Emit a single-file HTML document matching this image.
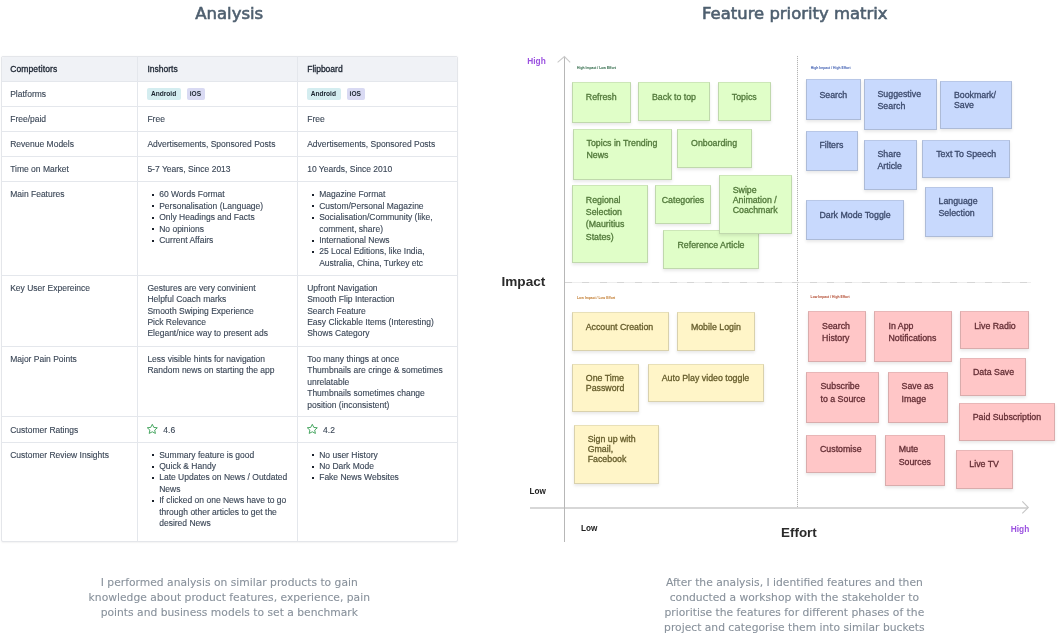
<!DOCTYPE html>
<html><head><meta charset="utf-8"><title>Analysis &amp; Feature priority matrix</title><style>
*{margin:0;padding:0;box-sizing:border-box}
html,body{width:1062px;height:635px;overflow:hidden;background:#fff}
body{position:relative;font-family:"Liberation Sans",Arial,sans-serif}
.t{position:absolute;white-space:nowrap}
.abs{position:absolute}
.title{font-family:"DejaVu Sans",sans-serif;font-weight:400;color:#4e5f6f;-webkit-text-stroke:0.6px #4e5f6f}
.tbl{position:absolute;border:1px solid #e4e6ea;border-radius:2px;background:#fff;box-shadow:0 0.5px 1.5px rgba(0,0,0,0.05)}
.thead{position:absolute;background:#f0f2f6;border-radius:2px 2px 0 0}
.hl{position:absolute;height:1px;background:#e4e7ec}
.vl{position:absolute;width:1px;background:#e4e7ec}
.th{font-weight:400;color:#1b2431;-webkit-text-stroke:0.3px #1b2431}
.td{color:#3a4656;-webkit-text-stroke:0.12px #3a4656}
.bul{position:absolute;width:2px;height:2px;background:#1b222c}
.badge{position:absolute;height:11.4px;border-radius:2px;font-size:6.6px;font-weight:700;line-height:11.4px;color:#1a232e;padding:0 3.5px}
.badge.and{background:#d4edf0;width:33.4px}
.badge.ios{background:#d9daf3;width:18.2px;padding:0 2.9px}
.star{position:absolute;width:12.6px;height:12.1px}
.para{font-family:"DejaVu Sans",sans-serif;color:#88919b;-webkit-text-stroke:0.1px #88919b}
.axis{position:absolute;background:#b7b7b7}
.axis.h{background:#d7d7d7}
.dv{position:absolute;width:1px;background:repeating-linear-gradient(to bottom,#b4b4b4 0 1px,#f4f4f4 1px 2px)}
.dh{position:absolute;height:1px;background:repeating-linear-gradient(to right,#d6d6d6 0 7px,#eeeeee 7px 17.5px)}
.hi{font-weight:700;color:#9b51e0}
.lo{font-weight:700;color:#222}
.big{font-weight:700;color:#2b2b2b}
.ql{font-weight:700}
.note{position:absolute;box-shadow:0 2px 3px rgba(0,0,0,0.09);border:1px solid rgba(70,70,70,0.2);border-top-color:rgba(70,70,70,0.12)}
.note.g{background:#e0fec8}
.note.b{background:#c8d9fd}
.note.y{background:#fff5c8}
.note.p{background:#ffc6c7}
.nt{-webkit-text-stroke:0.3px currentColor}
.gt{color:#51783a}
.bt{color:#3c4a6c}
.yt{color:#665d2c}
.pt{color:#642e35}
</style></head><body>
<div class="t title" style="left:29.20px;width:400px;text-align:center;top:3px;font-size:16.5px;line-height:21px;">Analysis</div>
<div class="t title" style="left:594.80px;width:400px;text-align:center;top:3px;font-size:16.45px;line-height:21px;">Feature priority matrix</div>
<div class="tbl" style="left:0.5px;top:56px;width:457.5px;height:485.8px;"></div>
<div class="thead" style="left:2px;top:57px;width:455px;height:24px;"></div>
<div class="hl" style="left:1px;top:80.5px;width:457px;"></div>
<div class="hl" style="left:1px;top:105.5px;width:457px;"></div>
<div class="hl" style="left:1px;top:130.5px;width:457px;"></div>
<div class="hl" style="left:1px;top:155.5px;width:457px;"></div>
<div class="hl" style="left:1px;top:180.5px;width:457px;"></div>
<div class="hl" style="left:1px;top:274.5px;width:457px;"></div>
<div class="hl" style="left:1px;top:345.5px;width:457px;"></div>
<div class="hl" style="left:1px;top:415.5px;width:457px;"></div>
<div class="hl" style="left:1px;top:441.5px;width:457px;"></div>
<div class="vl" style="left:137.0px;top:56px;height:485px;"></div>
<div class="vl" style="left:297.0px;top:56px;height:485px;"></div>
<div class="t th" style="left:10.20px;top:63px;font-size:8.5px;line-height:12px;letter-spacing:0.12px;">Competitors</div>
<div class="t th" style="left:147.40px;top:63px;font-size:8.5px;line-height:12px;">Inshorts</div>
<div class="t th" style="left:307.20px;top:63px;font-size:8.5px;line-height:12px;">Flipboard</div>
<div class="t td" style="left:10.20px;top:88px;font-size:8.5px;line-height:12px;">Platforms</div>
<div class="badge and" style="left:147.4px;top:88.2px;">Android</div>
<div class="badge ios" style="left:186.9px;top:88.2px;">iOS</div>
<div class="badge and" style="left:307.2px;top:88.2px;">Android</div>
<div class="badge ios" style="left:346.7px;top:88.2px;">iOS</div>
<div class="t td" style="left:10.20px;top:113px;font-size:8.5px;line-height:12px;">Free/paid</div>
<div class="t td" style="left:147.40px;top:113px;font-size:8.5px;line-height:12px;">Free</div>
<div class="t td" style="left:307.20px;top:113px;font-size:8.5px;line-height:12px;">Free</div>
<div class="t td" style="left:10.20px;top:138px;font-size:8.5px;line-height:12px;">Revenue Models</div>
<div class="t td" style="left:147.40px;top:138px;font-size:8.5px;line-height:12px;">Advertisements, Sponsored Posts</div>
<div class="t td" style="left:307.20px;top:138px;font-size:8.5px;line-height:12px;">Advertisements, Sponsored Posts</div>
<div class="t td" style="left:10.20px;top:163px;font-size:8.5px;line-height:12px;">Time on Market</div>
<div class="t td" style="left:147.40px;top:163px;font-size:8.5px;line-height:12px;">5-7 Years, Since 2013</div>
<div class="t td" style="left:307.20px;top:163px;font-size:8.5px;line-height:12px;">10 Yeards, Since 2010</div>
<div class="t td" style="left:10.20px;top:188px;font-size:8.5px;line-height:12px;">Main Features</div>
<div class="bul" style="left:152.2px;top:194.0px;"></div>
<div class="t td" style="left:159.20px;top:188px;font-size:8.5px;line-height:12px;">60 Words Format</div>
<div class="bul" style="left:152.2px;top:205.4px;"></div>
<div class="t td" style="left:159.20px;top:200px;font-size:8.5px;line-height:12px;">Personalisation (Language)</div>
<div class="bul" style="left:152.2px;top:216.8px;"></div>
<div class="t td" style="left:159.20px;top:211px;font-size:8.5px;line-height:12px;">Only Headings and Facts</div>
<div class="bul" style="left:152.2px;top:228.2px;"></div>
<div class="t td" style="left:159.20px;top:223px;font-size:8.5px;line-height:12px;">No opinions</div>
<div class="bul" style="left:152.2px;top:239.6px;"></div>
<div class="t td" style="left:159.20px;top:234px;font-size:8.5px;line-height:12px;">Current Affairs</div>
<div class="bul" style="left:312.2px;top:194.0px;"></div>
<div class="t td" style="left:319.20px;top:188px;font-size:8.5px;line-height:12px;">Magazine Format</div>
<div class="bul" style="left:312.2px;top:205.4px;"></div>
<div class="t td" style="left:319.20px;top:200px;font-size:8.5px;line-height:12px;">Custom/Personal Magazine</div>
<div class="bul" style="left:312.2px;top:216.8px;"></div>
<div class="t td" style="left:319.20px;top:211px;font-size:8.5px;line-height:12px;">Socialisation/Community (like,</div>
<div class="t td" style="left:319.20px;top:223px;font-size:8.5px;line-height:12px;">comment, share)</div>
<div class="bul" style="left:312.2px;top:239.6px;"></div>
<div class="t td" style="left:319.20px;top:234px;font-size:8.5px;line-height:12px;">International News</div>
<div class="bul" style="left:312.2px;top:251.0px;"></div>
<div class="t td" style="left:319.20px;top:245px;font-size:8.5px;line-height:12px;">25 Local Editions, like India,</div>
<div class="t td" style="left:319.20px;top:257px;font-size:8.5px;line-height:12px;">Australia, China, Turkey etc</div>
<div class="t td" style="left:10.20px;top:282px;font-size:8.5px;line-height:12px;">Key User Expereince</div>
<div class="t td" style="left:147.40px;top:282px;font-size:8.5px;line-height:12px;">Gestures are very convinient</div>
<div class="t td" style="left:147.40px;top:293px;font-size:8.5px;line-height:12px;">Helpful Coach marks</div>
<div class="t td" style="left:147.40px;top:305px;font-size:8.5px;line-height:12px;">Smooth Swiping Experience</div>
<div class="t td" style="left:147.40px;top:316px;font-size:8.5px;line-height:12px;">Pick Relevance</div>
<div class="t td" style="left:147.40px;top:327px;font-size:8.5px;line-height:12px;">Elegant/nice way to present ads</div>
<div class="t td" style="left:307.20px;top:282px;font-size:8.5px;line-height:12px;">Upfront Navigation</div>
<div class="t td" style="left:307.20px;top:293px;font-size:8.5px;line-height:12px;">Smooth Flip Interaction</div>
<div class="t td" style="left:307.20px;top:305px;font-size:8.5px;line-height:12px;">Search Feature</div>
<div class="t td" style="left:307.20px;top:316px;font-size:8.5px;line-height:12px;">Easy Clickable Items (Interesting)</div>
<div class="t td" style="left:307.20px;top:327px;font-size:8.5px;line-height:12px;">Shows Category</div>
<div class="t td" style="left:10.20px;top:353px;font-size:8.5px;line-height:12px;">Major Pain Points</div>
<div class="t td" style="left:147.40px;top:353px;font-size:8.5px;line-height:12px;">Less visible hints for navigation</div>
<div class="t td" style="left:147.40px;top:364px;font-size:8.5px;line-height:12px;">Random news on starting the app</div>
<div class="t td" style="left:307.20px;top:353px;font-size:8.5px;line-height:12px;">Too many things at once</div>
<div class="t td" style="left:307.20px;top:364px;font-size:8.5px;line-height:12px;">Thumbnails are cringe &amp; sometimes</div>
<div class="t td" style="left:307.20px;top:376px;font-size:8.5px;line-height:12px;">unrelatable</div>
<div class="t td" style="left:307.20px;top:387px;font-size:8.5px;line-height:12px;">Thumbnails sometimes change</div>
<div class="t td" style="left:307.20px;top:399px;font-size:8.5px;line-height:12px;">position (inconsistent)</div>
<div class="t td" style="left:10.20px;top:424px;font-size:8.5px;line-height:12px;">Customer Ratings</div>
<svg class="star" viewBox="0 0 24 24" preserveAspectRatio="none" style="left:146.3px;top:423.3px"><path d="M12 2.6l2.9 6.1 6.6.8-4.9 4.6 1.3 6.6L12 17.4l-5.9 3.3 1.3-6.6-4.9-4.6 6.6-.8z" fill="none" stroke="#2f9a4c" stroke-width="1.7" stroke-linejoin="round"/></svg>
<div class="t td" style="left:163.30px;top:424px;font-size:8.5px;line-height:12px;">4.6</div>
<svg class="star" viewBox="0 0 24 24" preserveAspectRatio="none" style="left:306.1px;top:423.3px"><path d="M12 2.6l2.9 6.1 6.6.8-4.9 4.6 1.3 6.6L12 17.4l-5.9 3.3 1.3-6.6-4.9-4.6 6.6-.8z" fill="none" stroke="#2f9a4c" stroke-width="1.7" stroke-linejoin="round"/></svg>
<div class="t td" style="left:323.10px;top:424px;font-size:8.5px;line-height:12px;">4.2</div>
<div class="t td" style="left:10.20px;top:449px;font-size:8.5px;line-height:12px;">Customer Review Insights</div>
<div class="bul" style="left:152.2px;top:454.3px;"></div>
<div class="t td" style="left:159.20px;top:449px;font-size:8.5px;line-height:12px;">Summary feature is good</div>
<div class="bul" style="left:152.2px;top:465.7px;"></div>
<div class="t td" style="left:159.20px;top:460px;font-size:8.5px;line-height:12px;">Quick &amp; Handy</div>
<div class="bul" style="left:152.2px;top:477.1px;"></div>
<div class="t td" style="left:159.20px;top:471px;font-size:8.5px;line-height:12px;">Late Updates on News / Outdated</div>
<div class="t td" style="left:159.20px;top:483px;font-size:8.5px;line-height:12px;">News</div>
<div class="bul" style="left:152.2px;top:499.9px;"></div>
<div class="t td" style="left:159.20px;top:494px;font-size:8.5px;line-height:12px;">If clicked on one News have to go</div>
<div class="t td" style="left:159.20px;top:506px;font-size:8.5px;line-height:12px;">through other articles to get the</div>
<div class="t td" style="left:159.20px;top:517px;font-size:8.5px;line-height:12px;">desired News</div>
<div class="bul" style="left:312.2px;top:454.3px;"></div>
<div class="t td" style="left:319.20px;top:449px;font-size:8.5px;line-height:12px;">No user History</div>
<div class="bul" style="left:312.2px;top:465.7px;"></div>
<div class="t td" style="left:319.20px;top:460px;font-size:8.5px;line-height:12px;">No Dark Mode</div>
<div class="bul" style="left:312.2px;top:477.1px;"></div>
<div class="t td" style="left:319.20px;top:471px;font-size:8.5px;line-height:12px;">Fake News Websites</div>
<div class="t para" style="left:29.30px;width:400px;text-align:center;top:575px;font-size:10.74px;line-height:15px;">I performed analysis on similar products to gain</div>
<div class="t para" style="left:29.30px;width:400px;text-align:center;top:590px;font-size:10.74px;line-height:15px;">knowledge about product features, experience, pain</div>
<div class="t para" style="left:29.30px;width:400px;text-align:center;top:605px;font-size:10.74px;line-height:15px;">points and business models to set a benchmark</div>
<div class="t para" style="left:594.40px;width:400px;text-align:center;top:575px;font-size:10.74px;line-height:15px;">After the analysis, I identified features and then</div>
<div class="t para" style="left:594.40px;width:400px;text-align:center;top:590px;font-size:10.74px;line-height:15px;">conducted a workshop with the stakeholder to</div>
<div class="t para" style="left:594.40px;width:400px;text-align:center;top:605px;font-size:10.74px;line-height:15px;">prioritise the features for different phases of the</div>
<div class="t para" style="left:594.40px;width:400px;text-align:center;top:620px;font-size:10.74px;line-height:15px;">project and categorise them into similar buckets</div>
<div class="axis h" style="left:529.5px;top:506.6px;width:498.8px;height:2.1px;"></div>
<div class="axis" style="left:563.9px;top:57px;width:1.2px;height:484.6px;"></div>
<svg class="abs" style="left:0;top:0" width="1062" height="635"><polyline points="557.6,62.4 564.4,56.5 570.2,62.4" fill="none" stroke="#cacaca" stroke-width="1.1"/><polyline points="1022.3,501.4 1028.3,507.5 1022.3,513.4" fill="none" stroke="#c6c6c6" stroke-width="1.1"/></svg>
<div class="dv" style="left:797px;top:56px;height:451px;"></div>
<div class="dh" style="left:565px;top:282px;width:466px;"></div>
<div class="t hi" style="left:527.30px;top:55px;font-size:8.3px;line-height:12px;">High</div>
<div class="t hi" style="left:1010.80px;top:523px;font-size:8.3px;line-height:12px;">High</div>
<div class="t lo" style="left:529.50px;top:486px;font-size:8.2px;line-height:11px;">Low</div>
<div class="t lo" style="left:580.90px;top:523px;font-size:8.2px;line-height:11px;">Low</div>
<div class="t big" style="left:501.50px;top:273px;font-size:13.6px;line-height:17px;">Impact</div>
<div class="t big" style="left:781.10px;top:524px;font-size:13.4px;line-height:17px;">Effort</div>
<div class="t ql" style="left:577.00px;top:65px;font-size:3.4px;line-height:6px;color:#1f5e3a;">High Impact / Low Effort</div>
<div class="t ql" style="left:810.80px;top:65px;font-size:3.4px;line-height:6px;color:#3b5bb0;">High Impact / High Effort</div>
<div class="t ql" style="left:577.00px;top:295px;font-size:3.4px;line-height:6px;color:#c0782a;">Low Impact / Low Effort</div>
<div class="t ql" style="left:810.60px;top:294px;font-size:3.4px;line-height:6px;color:#b0452a;">Low Impact / High Effort</div>
<div class="note g" style="left:572.2px;top:82.2px;width:58.6px;height:40.8px;"></div>
<div class="t nt gt" style="left:585.80px;top:91px;font-size:8.8px;line-height:12px;">Refresh</div>
<div class="note g" style="left:637.8px;top:82.2px;width:72.6px;height:38.5px;"></div>
<div class="t nt gt" style="left:652.00px;top:91px;font-size:8.8px;line-height:12px;">Back to top</div>
<div class="note g" style="left:717.5px;top:82.2px;width:53.9px;height:38.5px;"></div>
<div class="t nt gt" style="left:731.80px;top:91px;font-size:8.8px;line-height:12px;">Topics</div>
<div class="note g" style="left:572.5px;top:128.6px;width:99.5px;height:51.3px;"></div>
<div class="t nt gt" style="left:586.50px;top:137px;font-size:8.8px;line-height:12px;">Topics in Trending</div>
<div class="t nt gt" style="left:586.50px;top:149px;font-size:8.8px;line-height:12px;">News</div>
<div class="note g" style="left:677.3px;top:128.6px;width:74.4px;height:39.1px;"></div>
<div class="t nt gt" style="left:691.10px;top:137px;font-size:8.8px;line-height:12px;">Onboarding</div>
<div class="note g" style="left:572.2px;top:184.7px;width:76.0px;height:78.0px;"></div>
<div class="t nt gt" style="left:585.80px;top:194px;font-size:8.8px;line-height:12px;">Regional</div>
<div class="t nt gt" style="left:585.80px;top:206px;font-size:8.8px;line-height:12px;">Selection</div>
<div class="t nt gt" style="left:585.80px;top:218px;font-size:8.8px;line-height:12px;">(Mauritius</div>
<div class="t nt gt" style="left:585.80px;top:231px;font-size:8.8px;line-height:12px;">States)</div>
<div class="note g" style="left:655.4px;top:185.4px;width:56.1px;height:38.9px;"></div>
<div class="t nt gt" style="left:661.70px;top:194px;font-size:8.8px;line-height:12px;">Categories</div>
<div class="note g" style="left:663.3px;top:229.9px;width:95.9px;height:38.9px;"></div>
<div class="t nt gt" style="left:677.50px;top:239px;font-size:8.8px;line-height:12px;">Reference Article</div>
<div class="note g" style="left:719.4px;top:174.5px;width:72.6px;height:59.3px;"></div>
<div class="t nt gt" style="left:732.70px;top:184px;font-size:8.8px;line-height:12px;">Swipe</div>
<div class="t nt gt" style="left:732.70px;top:194px;font-size:8.8px;line-height:12px;">Animation /</div>
<div class="t nt gt" style="left:732.70px;top:204px;font-size:8.8px;line-height:12px;">Coachmark</div>
<div class="note b" style="left:805.8px;top:78.7px;width:55.0px;height:41.2px;"></div>
<div class="t nt bt" style="left:819.40px;top:89px;font-size:8.8px;line-height:12px;">Search</div>
<div class="note b" style="left:863.5px;top:78.7px;width:73.7px;height:50.9px;"></div>
<div class="t nt bt" style="left:877.50px;top:88px;font-size:8.8px;line-height:12px;">Suggestive</div>
<div class="t nt bt" style="left:877.50px;top:100px;font-size:8.8px;line-height:12px;">Search</div>
<div class="note b" style="left:940.1px;top:81.0px;width:71.7px;height:47.9px;"></div>
<div class="t nt bt" style="left:953.90px;top:89px;font-size:8.8px;line-height:12px;">Bookmark/</div>
<div class="t nt bt" style="left:953.90px;top:99px;font-size:8.8px;line-height:12px;">Save</div>
<div class="note b" style="left:805.6px;top:130.6px;width:52.3px;height:40.1px;"></div>
<div class="t nt bt" style="left:819.40px;top:139px;font-size:8.8px;line-height:12px;">Filters</div>
<div class="note b" style="left:863.5px;top:139.7px;width:53.4px;height:50.7px;"></div>
<div class="t nt bt" style="left:877.50px;top:148px;font-size:8.8px;line-height:12px;">Share</div>
<div class="t nt bt" style="left:877.50px;top:160px;font-size:8.8px;line-height:12px;">Article</div>
<div class="note b" style="left:922.2px;top:139.7px;width:87.8px;height:38.2px;"></div>
<div class="t nt bt" style="left:936.20px;top:148px;font-size:8.8px;line-height:12px;">Text To Speech</div>
<div class="note b" style="left:805.6px;top:199.6px;width:98.9px;height:40.7px;"></div>
<div class="t nt bt" style="left:819.40px;top:209px;font-size:8.8px;line-height:12px;">Dark Mode Toggle</div>
<div class="note b" style="left:924.9px;top:186.5px;width:68.1px;height:50.9px;"></div>
<div class="t nt bt" style="left:938.50px;top:195px;font-size:8.8px;line-height:12px;">Language</div>
<div class="t nt bt" style="left:938.50px;top:207px;font-size:8.8px;line-height:12px;">Selection</div>
<div class="note y" style="left:571.8px;top:311.8px;width:97.0px;height:38.9px;"></div>
<div class="t nt yt" style="left:585.70px;top:321px;font-size:8.8px;line-height:12px;">Account Creation</div>
<div class="note y" style="left:676.9px;top:311.8px;width:77.8px;height:38.9px;"></div>
<div class="t nt yt" style="left:690.90px;top:321px;font-size:8.8px;line-height:12px;">Mobile Login</div>
<div class="note y" style="left:571.8px;top:363.7px;width:67.3px;height:48.5px;"></div>
<div class="t nt yt" style="left:585.80px;top:372px;font-size:8.8px;line-height:12px;">One Time</div>
<div class="t nt yt" style="left:585.80px;top:382px;font-size:8.8px;line-height:12px;">Password</div>
<div class="note y" style="left:647.9px;top:363.7px;width:116.3px;height:38.3px;"></div>
<div class="t nt yt" style="left:661.70px;top:372px;font-size:8.8px;line-height:12px;">Auto Play video toggle</div>
<div class="note y" style="left:573.6px;top:424.7px;width:85.0px;height:59.7px;"></div>
<div class="t nt yt" style="left:587.70px;top:433px;font-size:8.8px;line-height:12px;">Sign up with</div>
<div class="t nt yt" style="left:587.70px;top:443px;font-size:8.8px;line-height:12px;">Gmail,</div>
<div class="t nt yt" style="left:587.70px;top:453px;font-size:8.8px;line-height:12px;">Facebook</div>
<div class="note p" style="left:808.1px;top:311.4px;width:57.6px;height:50.8px;"></div>
<div class="t nt pt" style="left:822.10px;top:320px;font-size:8.8px;line-height:12px;">Search</div>
<div class="t nt pt" style="left:822.10px;top:332px;font-size:8.8px;line-height:12px;">History</div>
<div class="note p" style="left:874.4px;top:311.4px;width:78.0px;height:50.8px;"></div>
<div class="t nt pt" style="left:888.50px;top:320px;font-size:8.8px;line-height:12px;">In App</div>
<div class="t nt pt" style="left:888.50px;top:332px;font-size:8.8px;line-height:12px;">Notifications</div>
<div class="note p" style="left:960.2px;top:311.4px;width:68.4px;height:37.7px;"></div>
<div class="t nt pt" style="left:974.20px;top:320px;font-size:8.8px;line-height:12px;">Live Radio</div>
<div class="note p" style="left:959.7px;top:357.9px;width:66.4px;height:38.2px;"></div>
<div class="t nt pt" style="left:973.00px;top:366px;font-size:8.8px;line-height:12px;">Data Save</div>
<div class="note p" style="left:806.3px;top:372.1px;width:72.6px;height:50.9px;"></div>
<div class="t nt pt" style="left:820.50px;top:380px;font-size:8.8px;line-height:12px;">Subscribe</div>
<div class="t nt pt" style="left:820.50px;top:393px;font-size:8.8px;line-height:12px;">to a Source</div>
<div class="note p" style="left:888.0px;top:372.1px;width:60.4px;height:50.7px;"></div>
<div class="t nt pt" style="left:901.60px;top:380px;font-size:8.8px;line-height:12px;">Save as</div>
<div class="t nt pt" style="left:901.60px;top:393px;font-size:8.8px;line-height:12px;">Image</div>
<div class="note p" style="left:959.4px;top:403.3px;width:96.1px;height:38.2px;"></div>
<div class="t nt pt" style="left:972.70px;top:411px;font-size:8.8px;line-height:12px;">Paid Subscription</div>
<div class="note p" style="left:806.3px;top:435.3px;width:69.8px;height:37.9px;"></div>
<div class="t nt pt" style="left:820.00px;top:443px;font-size:8.8px;line-height:12px;">Customise</div>
<div class="note p" style="left:885.1px;top:435.3px;width:59.9px;height:50.7px;"></div>
<div class="t nt pt" style="left:898.70px;top:443px;font-size:8.8px;line-height:12px;">Mute</div>
<div class="t nt pt" style="left:898.70px;top:456px;font-size:8.8px;line-height:12px;">Sources</div>
<div class="note p" style="left:956.0px;top:450.0px;width:57.0px;height:38.8px;"></div>
<div class="t nt pt" style="left:969.30px;top:458px;font-size:8.8px;line-height:12px;">Live TV</div>
</body></html>
